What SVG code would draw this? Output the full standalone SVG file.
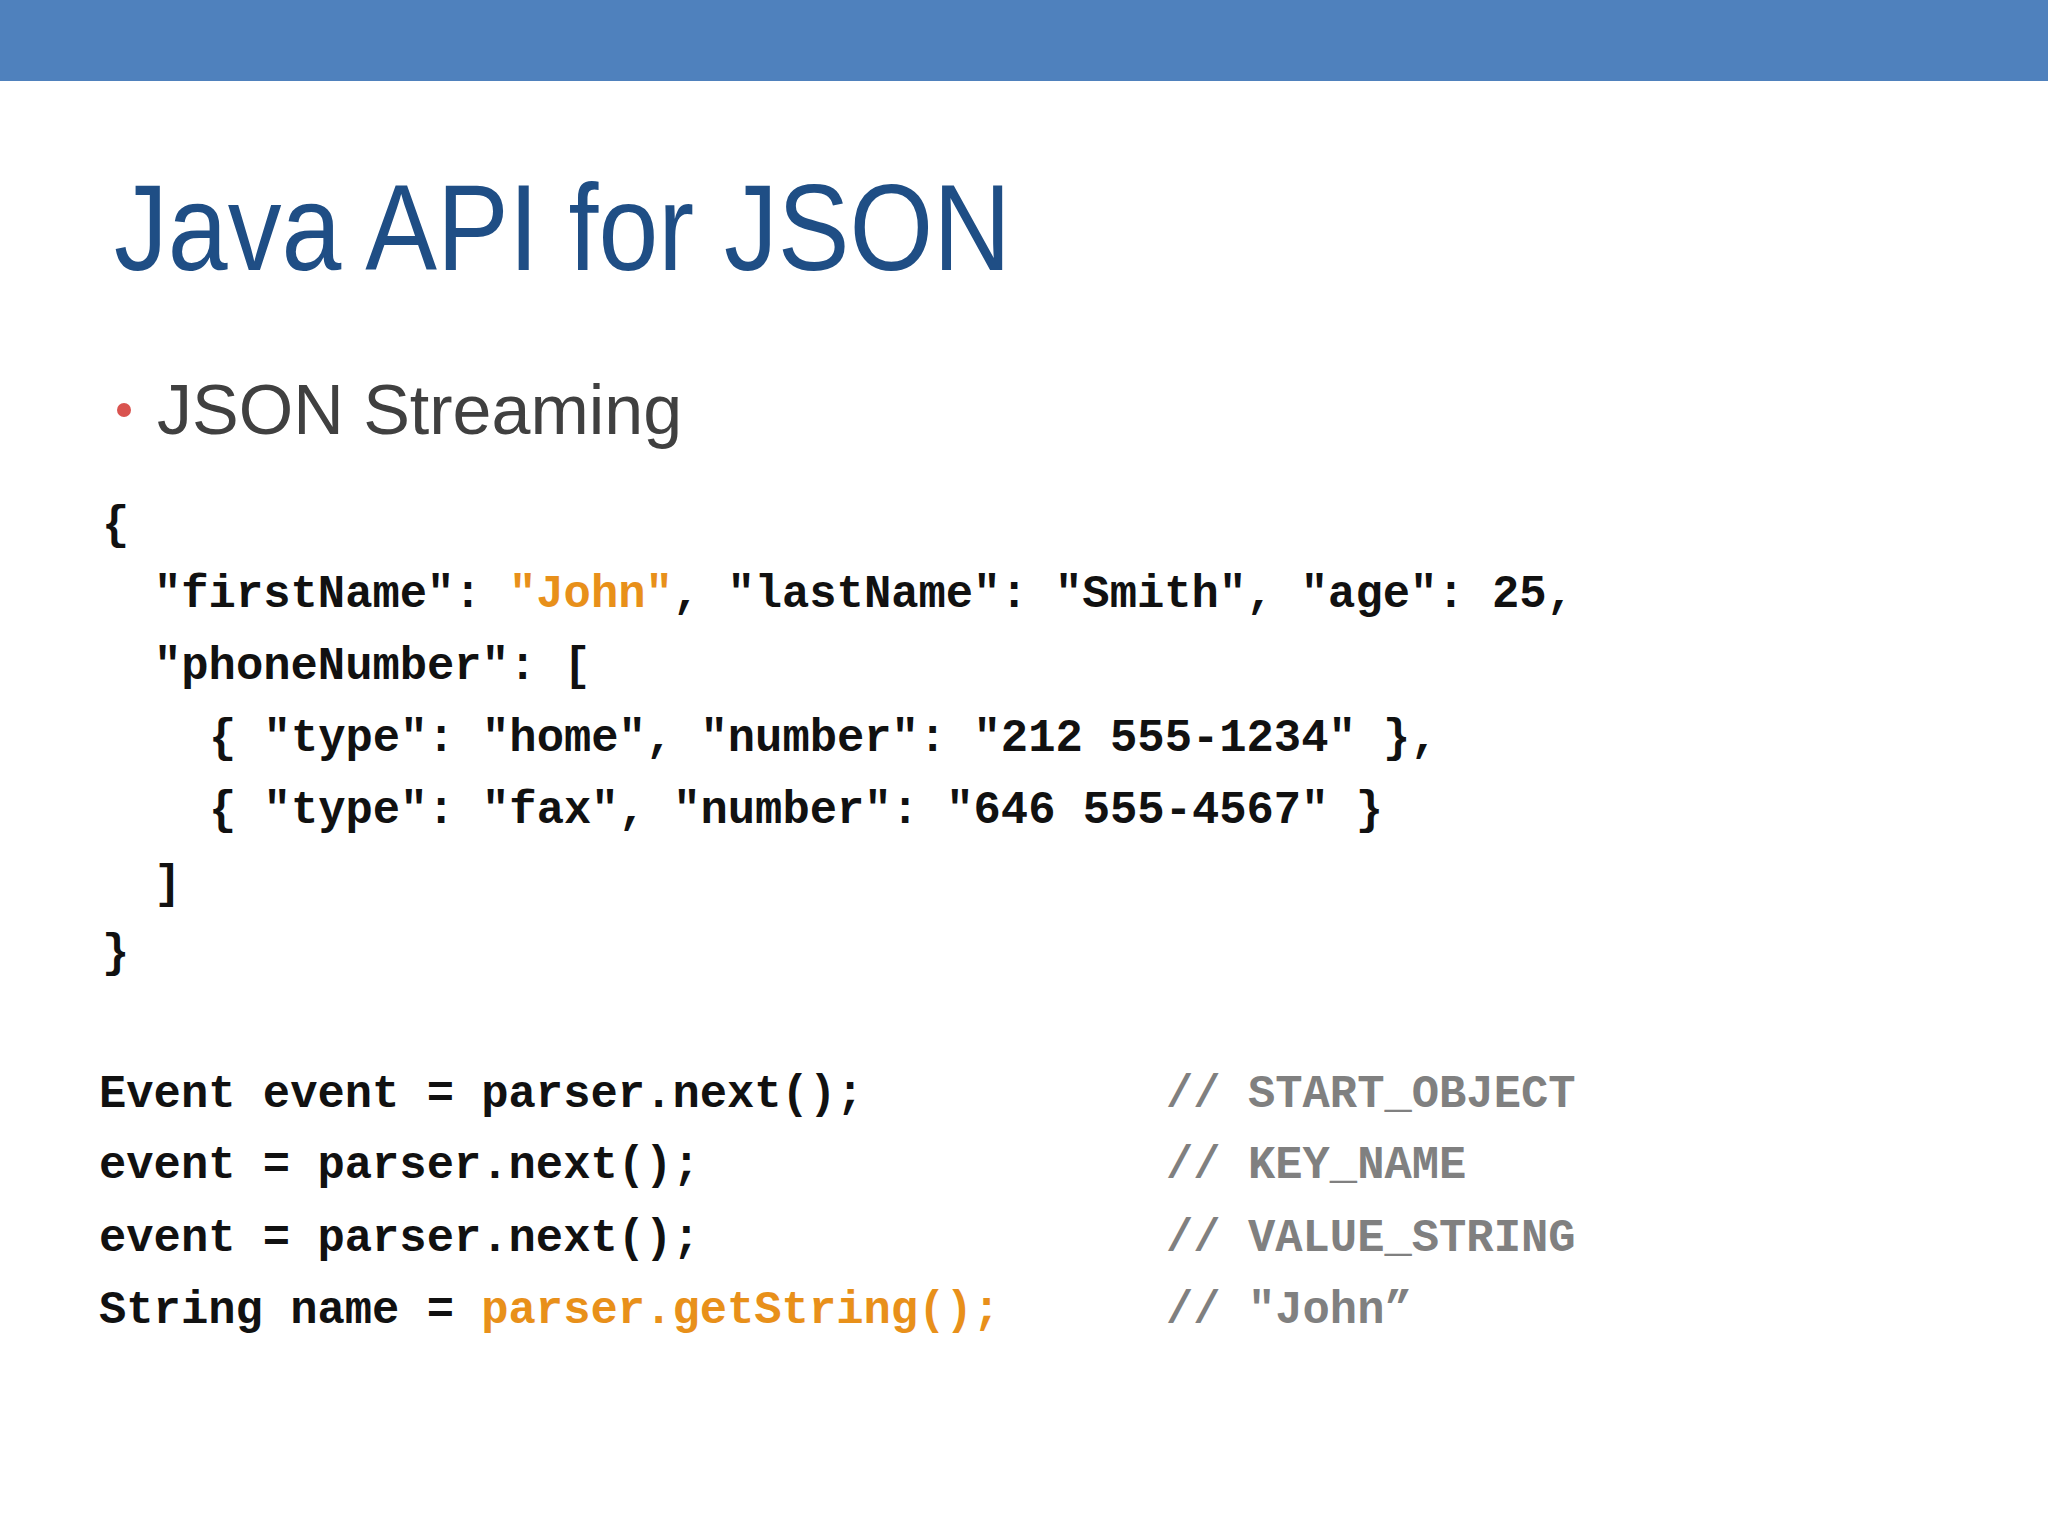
<svg xmlns="http://www.w3.org/2000/svg" width="2048" height="1536" viewBox="0 0 2048 1536">
<style>
.c{font-family:"Liberation Mono","Courier New",monospace;font-weight:bold;font-size:45.5px;fill:#111}
.o{fill:#E8901A}
.g{fill:#808080}
</style>
<rect width="2048" height="1536" fill="#fff"/>
<rect width="2048" height="81" fill="#4F81BD"/>
<g id="title"><text x="114" y="270" font-family="Liberation Sans,Arial,sans-serif" font-size="122" fill="#1F4E85" textLength="897" lengthAdjust="spacingAndGlyphs">Java API for JSON</text></g>
<g id="bullet"><circle cx="124" cy="410" r="7" fill="#D9534F"/>
<text x="157" y="434" font-family="Liberation Sans,Arial,sans-serif" font-size="70" fill="#404040">JSON Streaming</text></g>
<g id="json" class="c" xml:space="preserve">
<text x="102" y="538">{</text>
<text x="154" y="607">"firstName": <tspan class="o">"John"</tspan>, "lastName": "Smith", "age": 25,</text>
<text x="154" y="679">"phoneNumber": [</text>
<text x="209" y="751">{ "type": "home", "number": "212 555-1234" },</text>
<text x="209" y="823">{ "type": "fax", "number": "646 555-4567" }</text>
<text x="154" y="897">]</text>
<text x="102" y="966">}</text>
</g>
<g id="code" class="c" xml:space="preserve">
<text x="99" y="1107">Event event = parser.next();</text>
<text x="99" y="1178">event = parser.next();</text>
<text x="99" y="1251">event = parser.next();</text>
<text x="99" y="1323">String name = <tspan class="o">parser.getString();</tspan></text>
<text x="1166" y="1107" class="g">// START_OBJECT</text>
<text x="1166" y="1178" class="g">// KEY_NAME</text>
<text x="1166" y="1251" class="g">// VALUE_STRING</text>
<text x="1166" y="1323" class="g">// "John”</text>
</g>
</svg>
